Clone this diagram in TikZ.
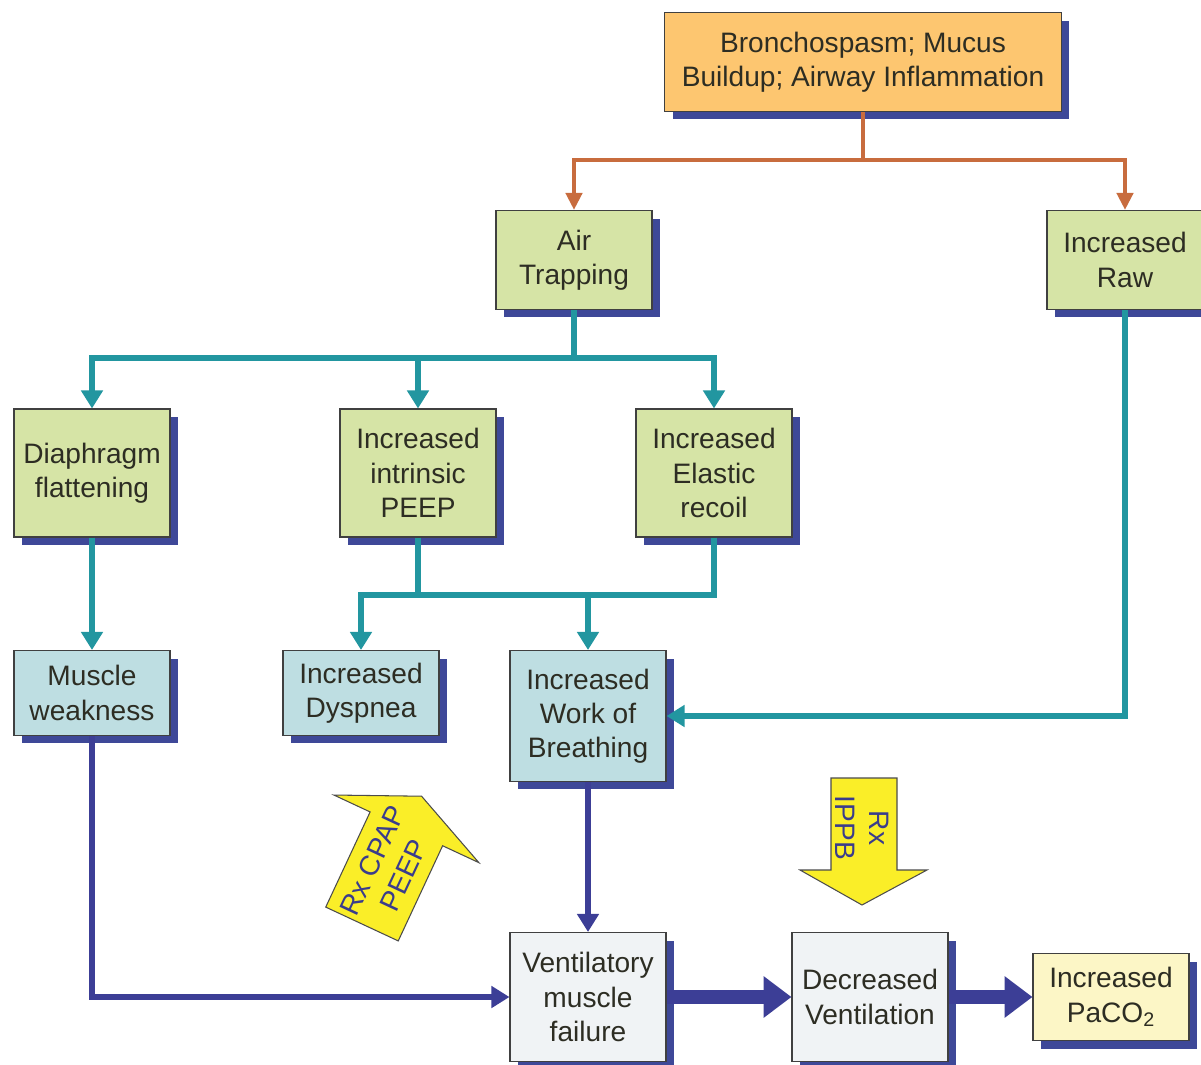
\documentclass[tikz,border=0pt]{standalone}
\usepackage{fontspec}
\setmainfont{Liberation Sans}
\usepackage{tikz}
\usetikzlibrary{arrows.meta,shadows}
\definecolor{inktext}{RGB}{45,45,35}
\definecolor{causefill}{RGB}{253,198,112}
\definecolor{effectfill}{RGB}{214,228,166}
\definecolor{symptomfill}{RGB}{190,222,226}
\definecolor{outcomefill}{RGB}{240,243,245}
\definecolor{gasfill}{RGB}{252,246,198}
\definecolor{shadowblue}{RGB}{62,72,152}
\definecolor{causeline}{RGB}{200,108,62}
\definecolor{airline}{RGB}{34,150,160}
\definecolor{failline}{RGB}{60,62,150}
\definecolor{rxyellow}{RGB}{250,238,40}
\definecolor{rxblue}{RGB}{58,60,140}

\begin{document}
\begin{tikzpicture}[
  x=0.02cm, y=-0.02cm,
  every node/.style={font=\fontsize{16}{19.5}\selectfont, text=inktext},
  box/.style={draw=black!75, line width=0.6pt, align=center, inner sep=1pt,
    minimum width=3.12cm,
    drop shadow={shadow xshift=0.16cm, shadow yshift=-0.16cm,
      fill=shadowblue, opacity=1}},
  cause/.style={box, fill=causefill},
  effect/.style={box, fill=effectfill},
  symptom/.style={box, fill=symptomfill},
  outcome/.style={box, fill=outcomefill},
  gas/.style={box, fill=gasfill},
  orangeline/.style={draw=causeline, line width=2.4pt},
  oarrow/.style={orangeline, -{Triangle[length=0.34cm, width=0.32cm]}},
  tealline/.style={draw=airline, line width=3pt},
  tarrow/.style={tealline, -{Triangle[length=0.36cm, width=0.42cm]}},
  barrow/.style={draw=failline, line width=3pt,
    -{Triangle[length=0.36cm, width=0.42cm]}},
  bigarrow/.style={draw=failline, line width=8.5pt,
    -{Triangle[length=0.56cm, width=0.8cm]}},
  rxarrow/.style={fill=rxyellow, draw=black!70, line width=0.6pt},
  rxlabel/.style={text=rxblue, align=center, inner sep=0pt}
]
\useasboundingbox (0,0) rectangle (1201,1065);

% boxes
\node[cause, minimum width=7.94cm, minimum height=1.98cm] (cause) at (863,62)
  {Bronchospasm; Mucus\\Buildup; Airway Inflammation};
\node[effect, minimum height=1.98cm] (trap) at (574,260) {Air\\Trapping};
\node[effect, minimum height=1.98cm] (raw) at (1125,260) {Increased\\Raw};
\node[effect, minimum height=2.56cm] (diaph) at (92,473) {Diaphragm\\flattening};
\node[effect, minimum height=2.56cm] (peep) at (418,473) {Increased\\intrinsic\\PEEP};
\node[effect, minimum height=2.56cm] (recoil) at (714,473) {Increased\\Elastic\\recoil};
\node[symptom, minimum height=1.7cm] (weak) at (92,693) {Muscle\\weakness};
\node[symptom, minimum height=1.7cm] (dysp) at (361,693) {Increased\\Dyspnea};
\node[symptom, minimum height=2.62cm] (work) at (588,716) {Increased\\Work of\\Breathing};
\node[outcome, minimum height=2.58cm] (fail) at (588,997) {Ventilatory\\muscle\\failure};
\node[outcome, minimum height=2.58cm] (vent) at (870,997) {Decreased\\Ventilation};
\node[gas, minimum height=1.74cm] (paco) at (1111,997) {Increased\\PaCO\textsubscript{2}};

% orange split
\coordinate (split1) at (863,160);
\draw[orangeline] (cause.south) -- (split1);
\draw[oarrow] (split1) -| (trap.north);
\draw[oarrow] (split1) -| (raw.north);

% teal connectors
\coordinate (split2) at (574,358);
\draw[tealline] (trap.south) -- (split2);
\draw[tarrow] (split2) -| (diaph.north);
\draw[tarrow] (split2) -| (peep.north);
\draw[tarrow] (split2) -| (recoil.north);
\draw[tarrow] (diaph.south) -- (weak.north);
\coordinate (join) at (418,595);
\draw[tealline] (peep.south) -- (join);
\draw[tealline] (recoil.south) |- (join);
\draw[tarrow] (join) -| (dysp.north);
\draw[tarrow] (join) -| (work.north);
\draw[tarrow] (raw.south) |- (work.east);

% blue connectors
\draw[barrow] (weak.south) |- (fail.west);
\draw[barrow] (work.south) -- (fail.north);
\draw[bigarrow] (fail.east) -- (vent.west);
\draw[bigarrow] (vent.east) -- (paco.west);

% treatment arrows
\begin{scope}[shift={(362,924)}, rotate=-25]
  \draw[rxarrow] (-40,0) -- (-40,-105) -- (-80,-105) -- (0,-141)
    -- (80,-105) -- (40,-105) -- (40,0) -- cycle;
  \node[rxlabel, rotate=65] (cpap) at (0,-62) {Rx CPAP\\PEEP};
\end{scope}
\draw[rxarrow] (831,778) -- (897,778) -- (897,870) -- (927,870) -- (862,905)
  -- (800,870) -- (831,870) -- cycle;
\node[rxlabel, rotate=-90] (ippb) at (862,828) {Rx\\IPPB};
\end{tikzpicture}
\end{document}
